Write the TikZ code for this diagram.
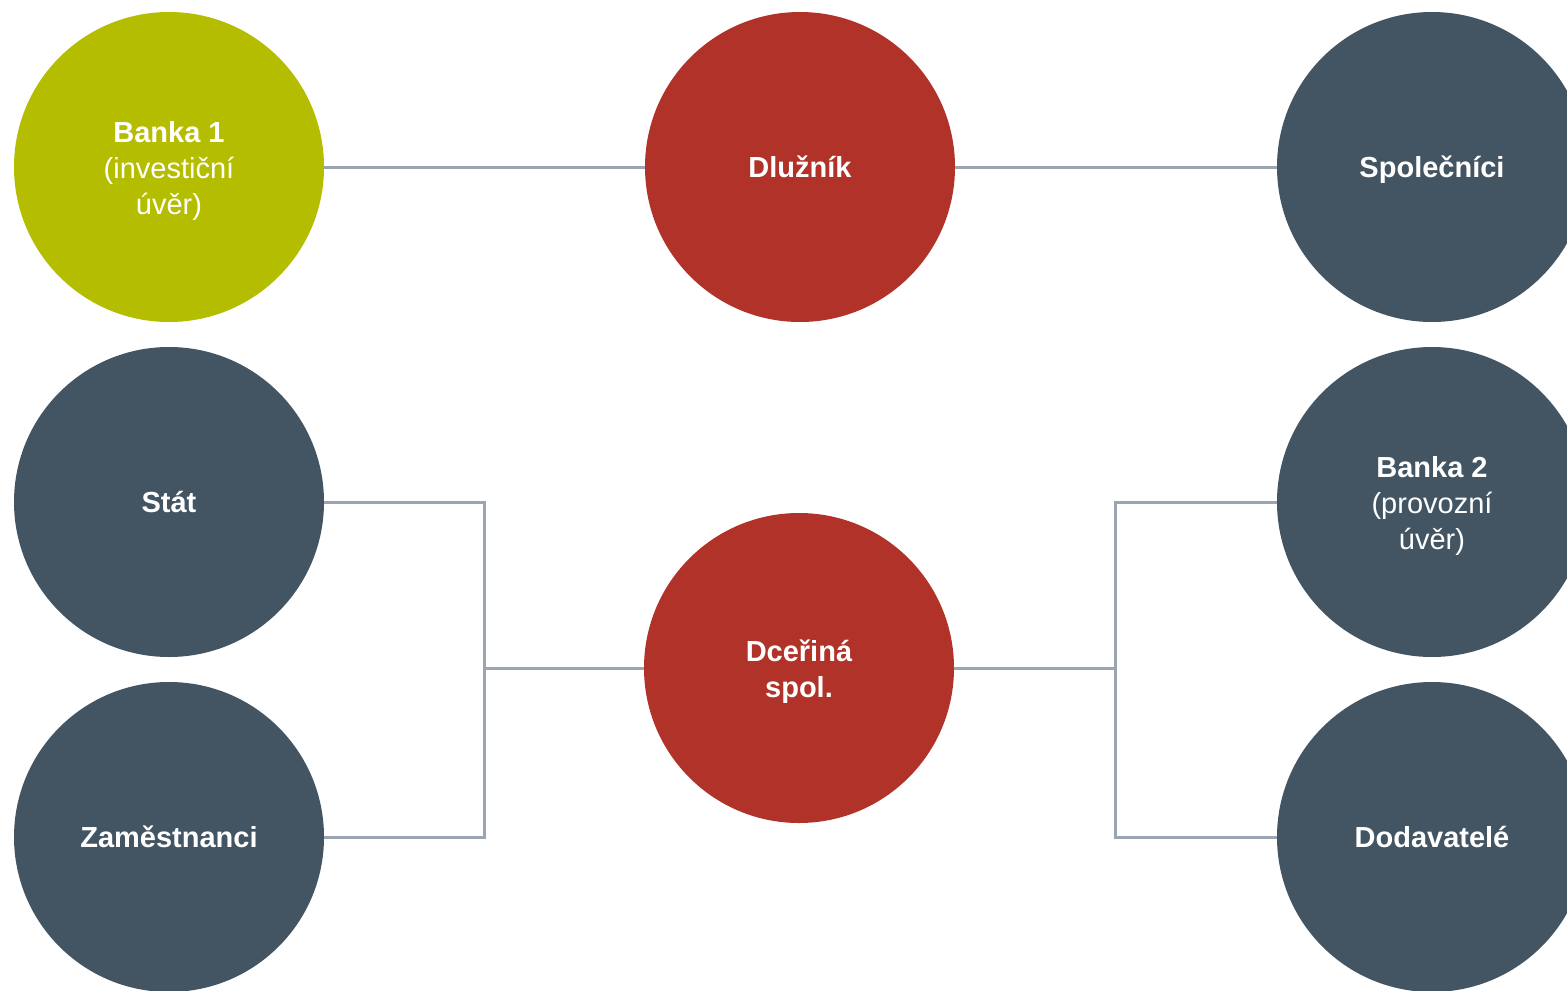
\documentclass[tikz,border=0pt]{standalone}
\usepackage{fontspec}
\setmainfont{Liberation Sans}
\definecolor{cgreen}{HTML}{B5BD00}
\definecolor{cred}{HTML}{B03228}
\definecolor{cslate}{HTML}{435563}
\definecolor{cline}{HTML}{9BA5B1}
\newcommand{\lowr}[1]{\rule{0pt}{#1}}
\begin{document}
\begin{tikzpicture}[x=1pt,y=-1pt,
  bubble/.style={circle,minimum size=310pt,inner sep=0pt,text=white,align=center,
    font=\fontsize{29}{36}\selectfont},
  green/.style={bubble,fill=cgreen},
  red/.style={bubble,fill=cred},
  slate/.style={bubble,fill=cslate},
  conn/.style={draw=cline,line width=3pt}]
\useasboundingbox (0,0) rectangle (1567,991);
\fill[white] (0,0) rectangle (1567,991);
\node[green] (b1) at (169,167) {\lowr{29pt}\textbf{Banka 1}\\(investiční\\úvěr)};
\node[red] (dl) at (800,167) {\textbf{Dlužník}};
\node[slate] (sp) at (1432,167) {\lowr{28pt}\textbf{Společníci}};
\node[slate] (st) at (169,502) {\textbf{Stát}};
\node[slate] (za) at (169,837) {\textbf{Zaměstnanci}};
\node[red] (dc) at (799,668) {\lowr{29pt}\textbf{Dceřiná}\\\textbf{spol.}};
\node[slate] (b2) at (1432,502) {\lowr{29pt}\textbf{Banka 2}\\(provozní\\úvěr)};
\node[slate] (dd) at (1432,837) {\textbf{Dodavatelé}};
\coordinate (lj) at (484,668);
\coordinate (rj) at (1115,668);
\draw[conn] (b1.east) -- (dl.west);
\draw[conn] (dl.east) -- (sp.west);
\draw[conn] (st.east) -| (lj) |- (za.east);
\draw[conn] (lj) -- (dc.west);
\draw[conn] (b2.west) -| (rj) |- (dd.west);
\draw[conn] (rj) -- (dc.east);
\end{tikzpicture}
\end{document}
